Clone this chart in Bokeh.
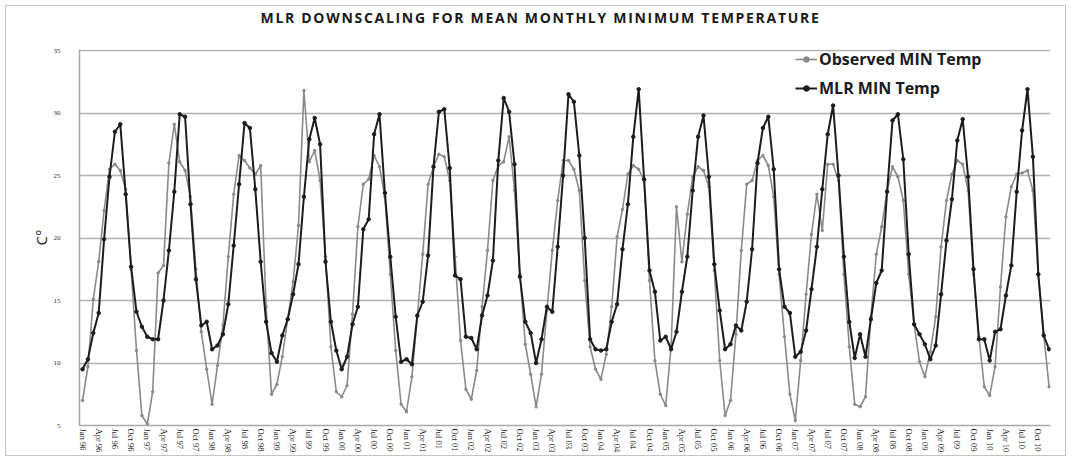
from bokeh.plotting import figure
from bokeh.layouts import column
from bokeh.models import ColumnDataSource, FixedTicker, Legend, LegendItem, Range1d, Div
from bokeh.embed import file_html
from bokeh.resources import INLINE

# Monthly series, Jan 1996 .. Dec 2010 (one row per year)
observed_by_year = [
    [7.0, 9.7, 15.1, 18.1, 22.2, 25.5, 25.9, 25.4, 23.9, 17.5, 11.0, 5.8],   # 1996
    [5.1, 7.7, 17.2, 17.8, 26.0, 29.1, 26.1, 25.4, 23.3, 17.5, 12.5, 9.5],   # 1997
    [6.7, 9.8, 13.0, 18.5, 23.5, 26.6, 26.2, 25.6, 25.1, 25.8, 14.5, 7.5],   # 1998
    [8.3, 10.5, 13.5, 16.5, 21.0, 31.8, 26.1, 27.0, 24.6, 18.5, 11.3, 7.7],  # 1999
    [7.3, 8.2, 13.9, 20.9, 24.3, 24.7, 26.6, 25.7, 23.3, 17.1, 11.0, 6.7],   # 2000
    [6.1, 8.9, 13.7, 18.7, 24.3, 25.7, 26.7, 26.5, 24.6, 18.5, 11.8, 7.9],   # 2001
    [7.1, 9.4, 14.5, 19.0, 24.6, 25.8, 26.1, 28.1, 23.8, 17.1, 11.5, 9.1],   # 2002
    [6.5, 9.1, 14.2, 19.0, 23.0, 26.2, 26.2, 25.5, 23.8, 16.6, 11.3, 9.5],   # 2003
    [8.7, 10.7, 14.5, 20.1, 22.3, 25.1, 25.8, 25.5, 24.6, 16.6, 10.2, 7.5],  # 2004
    [6.6, 11.3, 22.5, 18.1, 21.9, 24.9, 25.7, 25.4, 24.1, 17.4, 10.2, 5.8],  # 2005
    [7.0, 12.3, 19.0, 24.3, 24.6, 26.2, 26.6, 25.8, 23.3, 17.1, 12.1, 7.5],  # 2006
    [5.4, 10.2, 15.5, 20.3, 23.5, 20.6, 25.9, 25.9, 24.6, 17.1, 11.3, 6.7],  # 2007
    [6.5, 7.3, 13.7, 18.7, 20.9, 23.8, 25.7, 24.9, 23.0, 17.1, 13.1, 10.1],  # 2008
    [8.9, 10.9, 13.7, 19.3, 23.0, 25.1, 26.2, 25.9, 23.8, 17.1, 12.1, 8.1],  # 2009
    [7.4, 9.7, 16.1, 21.7, 24.1, 25.1, 25.2, 25.4, 23.8, 17.1, 12.3, 8.1],   # 2010
]

mlr_by_year = [
    [9.5, 10.3, 12.4, 14.0, 19.9, 24.9, 28.5, 29.1, 23.5, 17.7, 14.1, 12.9],  # 1996
    [12.1, 11.9, 11.9, 15.0, 19.0, 23.7, 29.9, 29.7, 22.7, 16.7, 13.0, 13.3], # 1997
    [11.1, 11.4, 12.3, 14.7, 19.4, 24.3, 29.2, 28.8, 23.9, 18.1, 13.3, 10.8], # 1998
    [10.1, 12.2, 13.5, 15.5, 17.9, 23.3, 27.9, 29.6, 27.5, 18.1, 13.3, 11.0], # 1999
    [9.5, 10.5, 13.1, 14.5, 20.7, 21.5, 28.3, 29.9, 23.6, 18.5, 13.7, 10.1],  # 2000
    [10.3, 9.9, 13.8, 14.9, 18.6, 25.7, 30.1, 30.3, 25.6, 17.0, 16.7, 12.1],  # 2001
    [12.0, 11.1, 13.8, 15.4, 18.2, 26.2, 31.2, 30.1, 25.9, 16.9, 13.3, 12.4], # 2002
    [10.0, 11.9, 14.5, 14.1, 19.3, 25.0, 31.5, 30.9, 26.6, 20.0, 11.9, 11.1], # 2003
    [11.0, 11.1, 13.3, 14.7, 19.1, 22.7, 28.1, 31.9, 24.7, 17.4, 15.7, 11.8], # 2004
    [12.1, 11.1, 12.5, 15.7, 18.5, 23.8, 28.1, 29.8, 24.9, 17.9, 14.2, 11.1], # 2005
    [11.5, 13.0, 12.6, 14.9, 19.1, 26.0, 28.8, 29.7, 25.5, 17.5, 14.5, 14.0], # 2006
    [10.5, 10.9, 12.6, 15.9, 19.3, 23.9, 28.3, 30.6, 25.0, 18.5, 13.3, 10.4], # 2007
    [12.3, 10.5, 13.5, 16.4, 17.4, 23.7, 29.4, 29.9, 26.3, 18.7, 13.1, 12.3], # 2008
    [11.5, 10.3, 11.4, 15.5, 19.8, 23.1, 27.8, 29.5, 24.9, 17.5, 11.9, 11.9], # 2009
    [10.2, 12.5, 12.7, 15.4, 17.8, 23.7, 28.6, 31.9, 26.5, 17.1, 12.2, 11.1], # 2010
]

years = list(range(1996, 2011))
month_names = ["Jan", "Feb", "Mar", "Apr", "May", "Jun",
               "Jul", "Aug", "Sep", "Oct", "Nov", "Dec"]
y_ticks = [5, 10, 15, 20, 25, 30, 35]

observed = [v for row in observed_by_year for v in row]
mlr = [v for row in mlr_by_year for v in row]
month_idx = list(range(len(observed)))
month_labels = [f"{m} {str(y)[2:]}" for y in years for m in month_names]

# quarterly tick labels: Jan, Apr, Jul, Oct of each year
tick_pos = month_idx[::3]
tick_labels = {i: month_labels[i] for i in tick_pos}

src = ColumnDataSource(dict(x=month_idx, obs=observed, mlr=mlr))

# layout: framed box (inner corner at 6,6) holding a title strip and the plot
BOX_W = 1059
TITLE_H = 30
left, right, top, bottom = 73, 15, 13, 30
frame_w, frame_h = 971, 376
px_per_month = 5.4
x_start = -3 / px_per_month
x_end = x_start + frame_w / px_per_month

title = Div(text="MLR DOWNSCALING FOR MEAN MONTHLY MINIMUM TEMPERATURE",
            width=BOX_W, height=TITLE_H, margin=0,
            styles={"font-family": "Open Sans", "font-weight": "bold",
                    "font-size": "14px", "letter-spacing": "1.7px",
                    "text-align": "center", "line-height": "24px",
                    "text-indent": "10px", "color": "#1a1a1a"})

p = figure(width=left + frame_w + right, height=top + frame_h + bottom,
           frame_width=frame_w, frame_height=frame_h,
           output_backend="svg", toolbar_location=None,
           x_range=Range1d(x_start, x_end), y_range=Range1d(5, 35.08),
           min_border_left=left, min_border_right=right,
           min_border_top=top, min_border_bottom=bottom,
           background_fill_color="white", border_fill_color="white",
           margin=0)
p.outline_line_color = None

# axes
p.xaxis.ticker = FixedTicker(ticks=tick_pos)
p.xaxis.major_label_overrides = tick_labels
p.xaxis.major_label_orientation = "vertical"
p.xaxis.major_label_text_font = "Liberation Serif"
p.xaxis.major_label_text_font_size = "8.5px"
p.xaxis.major_label_text_color = "#222222"
p.xaxis.major_label_standoff = 3
p.xaxis.major_tick_out = 0
p.xaxis.major_tick_in = 0
p.xaxis.major_tick_line_color = None
p.xaxis.minor_tick_line_color = None
p.xaxis.axis_line_color = "#a8a8a8"
p.xaxis.axis_line_width = 1.5

p.yaxis.ticker = FixedTicker(ticks=y_ticks)
p.yaxis.major_label_text_font = "Liberation Serif"
p.yaxis.major_label_text_font_size = "7px"
p.yaxis.major_label_text_color = "#333333"
p.yaxis.major_label_standoff = 19
p.yaxis.major_tick_out = 0
p.yaxis.major_tick_in = 0
p.yaxis.major_tick_line_color = None
p.yaxis.minor_tick_line_color = None
p.yaxis.axis_line_color = "#a8a8a8"
p.yaxis.axis_line_width = 1.5
p.yaxis.axis_label = "C°"
p.yaxis.axis_label_text_font = "Open Sans"
p.yaxis.axis_label_text_font_style = "normal"
p.yaxis.axis_label_text_font_size = "15px"
p.yaxis.axis_label_text_color = "#222222"
p.yaxis.axis_label_standoff = 0

p.xgrid.grid_line_color = None
p.ygrid.ticker = FixedTicker(ticks=y_ticks)
p.ygrid.grid_line_color = "#b0b0b8"
p.ygrid.grid_line_width = 1.5

# series
obs_line = p.line("x", "obs", source=src, line_color="#8a8a8a", line_width=1.6)
obs_pts = p.scatter("x", "obs", source=src, size=2.5, marker="circle",
                    fill_color="#8a8a8a", line_color="#8a8a8a")
mlr_line = p.line("x", "mlr", source=src, line_color="#1c1c1c", line_width=2)
mlr_pts = p.scatter("x", "mlr", source=src, size=3.5, marker="circle",
                    fill_color="#1c1c1c", line_color="#1c1c1c")

legend = Legend(items=[
    LegendItem(label="Observed MIN Temp", renderers=[obs_line, obs_pts]),
    LegendItem(label="MLR MIN Temp", renderers=[mlr_line, mlr_pts]),
], location=(716, 326), orientation="vertical")
legend.padding = 0
legend.margin = 0
legend.spacing = 7
legend.glyph_width = 22
legend.glyph_height = 14
legend.label_height = 14
legend.label_standoff = 2
legend.label_text_font = "Open Sans"
legend.label_text_font_style = "bold"
legend.label_text_font_size = "16px"
legend.label_text_color = "#1a1a1a"
legend.border_line_color = None
legend.background_fill_alpha = 0
p.add_layout(legend)

page = column(title, p, margin=(5, 0, 0, 5), spacing=0,
              styles={"border": "1px solid #c4c4c4", "background": "white"})

open("out.html", "w").write(file_html(page, INLINE))
